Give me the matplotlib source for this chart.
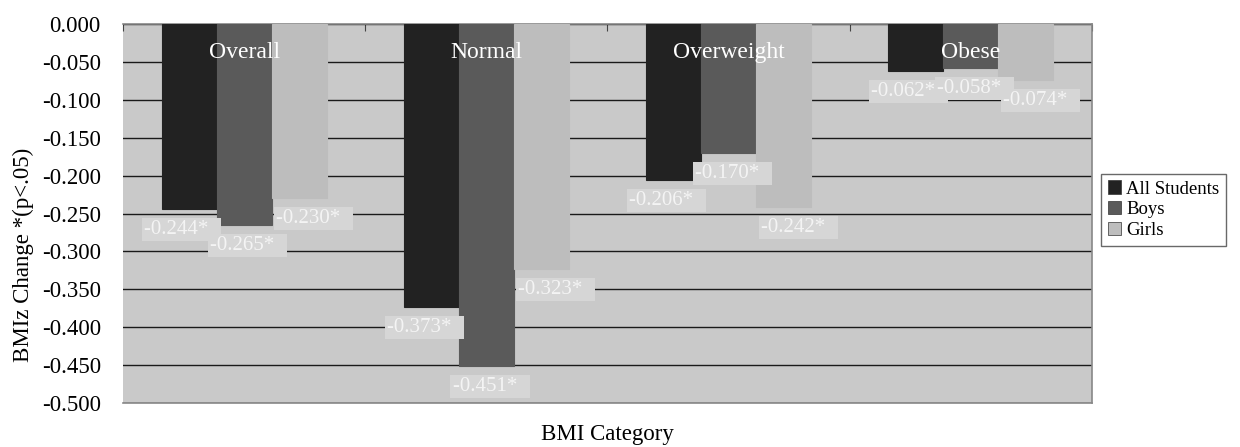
import matplotlib
matplotlib.use("Agg")
import matplotlib.pyplot as plt
from matplotlib.patches import Patch
import numpy as np

categories = ["Overall", "Normal", "Overweight", "Obese"]
series_names = ["All Students", "Boys", "Girls"]
all_students = [-0.244, -0.373, -0.206, -0.062]
boys = [-0.265, -0.451, -0.170, -0.058]
girls = [-0.230, -0.323, -0.242, -0.074]
yticks = [0.0, -0.05, -0.1, -0.15, -0.2, -0.25, -0.3, -0.35, -0.4, -0.45, -0.5]

colors = ["#222222", "#5a5a5a", "#bdbdbd"]
plt.rcParams['font.family'] = ['Liberation Serif', 'DejaVu Serif']

fig = plt.figure(figsize=(12.4, 4.47), dpi=100)
ax = fig.add_axes([0.0992, 0.0984, 0.7814, 0.8479])
ax.set_facecolor("#c9c9c9")

x = np.arange(len(categories))
w = 0.227
series = [all_students, boys, girls]
offsets = [-w, 0, w]
lab_dx = [-0.03, 0.015, 0.06]
for vals, off, col, dx in zip(series, offsets, colors, lab_dx):
    ax.bar(x + off, vals, width=w, color=col, edgecolor=col, linewidth=0.8, zorder=3)
    for xi, v in zip(x, vals):
        ax.text(xi + off + dx, v - 0.027, f"{v:.3f}*  ", ha="center", va="center",
                fontsize=15, color="#f4f4f4", zorder=5,
                bbox=dict(boxstyle="square,pad=0.1", facecolor="#d6d6d6", edgecolor="none"))

for xi, c in zip(x, categories):
    ax.text(xi, -0.038, c, ha="center", va="center", fontsize=17, color="white", zorder=6)

ax.set_xlim(-0.5, len(categories) - 0.5)
ax.set_ylim(-0.5, 0.0)
ax.set_yticks(yticks)
ax.set_yticklabels([f"{t:.3f}" for t in yticks], fontsize=16.5)
ax.yaxis.grid(True, color="#1a1a1a", linewidth=1.0, zorder=1)
ax.set_axisbelow(True)
ax.tick_params(axis="y", length=0, pad=16)

ax.xaxis.set_ticks_position("top")
ax.set_xticks(np.arange(len(categories) + 1) - 0.5)
ax.set_xticklabels([])
ax.tick_params(axis="x", direction="in", length=5, color="#444444")
ax.xaxis.set_label_position("bottom")
ax.set_xlabel("BMI Category", fontsize=16.5, va="baseline")
ax.xaxis.set_label_coords(0.5, -0.0976)
ax.set_ylabel("BMIz Change *(p<.05)", fontsize=16.5, va="center")
ax.yaxis.set_label_coords(-0.103, 0.39)

for s in ["top", "right", "bottom", "left"]:
    ax.spines[s].set_color("#888888")
    ax.spines[s].set_linewidth(1.2)
ax.spines["left"].set_visible(False)

handles = [Patch(facecolor=c, edgecolor="#333333", linewidth=0.5) for c in colors]
leg = fig.legend(handles, series_names, loc="upper left", bbox_to_anchor=(0.888, 0.611),
                 fontsize=13.5, frameon=True, fancybox=False, handlelength=0.7, handleheight=0.7,
                 handletextpad=0.3, borderpad=0.35, labelspacing=0.2, borderaxespad=0)
leg.get_frame().set_edgecolor("#444444")
leg.get_frame().set_linewidth(1.0)

fig.savefig("out.png", dpi=100)
